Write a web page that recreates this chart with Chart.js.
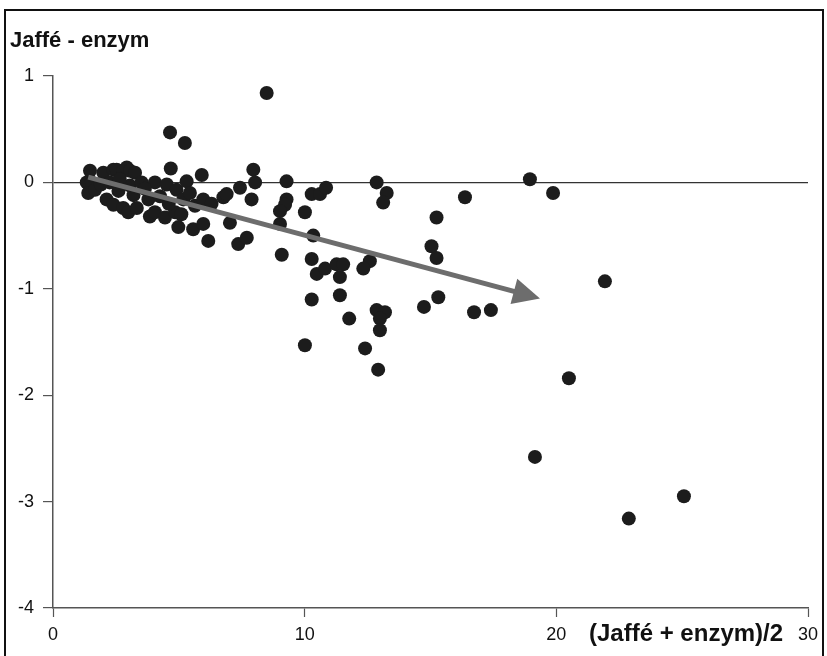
<!DOCTYPE html>
<html>
<head>
<meta charset="utf-8">
<script src="https://cdn.jsdelivr.net/npm/chart.js@4.4.1/dist/chart.umd.min.js"></script>
<style>
  html, body { margin: 0; padding: 0; background: #fff; overflow: hidden; }
  #wrap { position: relative; width: 827px; height: 656px; }
  #frame { position: absolute; left: 4px; top: 9px; width: 816px; height: 660px; border: 2px solid #111; pointer-events: none; }
</style>
</head>
<body>
<div id="wrap">
  <canvas id="c" width="827" height="656"></canvas>
  <div id="frame"></div>
</div>
<script>
// ---- data ----
const yTitle = 'Jaffé - enzym';
const xTitle = '(Jaffé + enzym)/2';
const xTicks = [0, 10, 20, 30];
const yTicks = [1, 0, -1, -2, -3, -4];

const xVals = [
  1.34, 1.47, 1.54, 1.40, 1.67, 2.00, 2.13, 2.40, 2.40, 2.53,
  2.79, 2.93, 3.06, 3.26, 3.06, 2.79, 2.99, 3.33, 3.52, 3.79,
  3.85, 4.05, 4.05, 4.45, 4.52, 4.68, 4.85, 4.91, 4.98, 5.18,
  5.31, 5.44, 5.57, 5.64, 5.91, 5.97, 5.97, 6.17, 6.77, 6.90,
  7.03, 7.36, 7.43, 7.70, 7.96, 8.03, 7.89, 8.49, 4.65, 5.24,
  9.28, 9.28, 9.22, 9.02, 10.01, 10.28, 10.61, 10.85, 9.02, 10.34,
  9.09, 10.28, 10.48, 10.81, 11.27, 11.53, 11.40, 12.59, 12.33, 10.28,
  11.40, 11.77, 12.86, 13.19, 12.99, 12.99, 10.01, 12.40, 12.92, 12.86,
  13.26, 13.12, 15.24, 15.04, 15.24, 15.31, 14.74, 16.37, 16.73, 17.40,
  18.95, 19.87, 21.93, 20.50, 19.15, 25.07, 22.88,
  1.90, 2.25, 2.60, 2.65, 3.20, 3.65, 4.25, 4.60, 5.10, 6.30
];
const yVals = [
  0.00, 0.11, 0.00, -0.10, -0.07, 0.09, -0.16, 0.12, -0.21, 0.12,
  0.11, 0.14, 0.11, 0.09, -0.03, -0.24, -0.28, -0.24, 0.00, -0.16,
  -0.32, -0.28, 0.00, -0.33, -0.02, 0.13, -0.28, -0.07, -0.42, -0.16,
  0.01, -0.10, -0.44, -0.22, 0.07, -0.16, -0.39, -0.55, -0.14, -0.11,
  -0.38, -0.58, -0.05, -0.52, 0.12, 0.00, -0.16, 0.84, 0.47, 0.37,
  0.01, -0.16, -0.21, -0.27, -0.28, -0.11, -0.11, -0.05, -0.39, -0.50,
  -0.68, -0.72, -0.86, -0.81, -0.77, -0.77, -0.89, -0.74, -0.81, -1.10,
  -1.06, -1.28, -1.20, -1.22, -1.28, -1.39, -1.53, -1.56, -1.76, 0.00,
  -0.10, -0.19, -0.33, -0.60, -0.71, -1.08, -1.17, -0.14, -1.22, -1.20,
  0.03, -0.10, -0.93, -1.84, -2.58, -2.95, -3.16,
  -0.02, 0.00, -0.08, 0.03, -0.12, -0.06, -0.13, -0.20, -0.30, -0.20
];
// trend arrow (start, tip) in data units
const arrowX = [1.40, 19.35];
const arrowY = [0.05, -1.09];

const points = xVals.map((x, i) => ({ x: x, y: yVals[i] }));

const textPlugin = {
  id: 'texts',
  afterDatasetsDraw(chart) {
    const ctx = chart.ctx;
    const xs = chart.scales.x, ys = chart.scales.y;
    const x0 = xs.getPixelForValue(arrowX[0]), y0 = ys.getPixelForValue(arrowY[0]);
    const x1 = xs.getPixelForValue(arrowX[1]), y1 = ys.getPixelForValue(arrowY[1]);
    const ang = Math.atan2(y1 - y0, x1 - x0);
    const headL = 27, headW = 13;
    const bx = x1 - headL * Math.cos(ang), by = y1 - headL * Math.sin(ang);
    ctx.save();
    ctx.strokeStyle = '#6d6d6d';
    ctx.fillStyle = '#6d6d6d';
    ctx.lineWidth = 5;
    ctx.lineCap = 'butt';
    ctx.beginPath();
    ctx.moveTo(x0, y0);
    ctx.lineTo(bx + 2 * Math.cos(ang), by + 2 * Math.sin(ang));
    ctx.stroke();
    ctx.beginPath();
    ctx.moveTo(x1, y1);
    ctx.lineTo(bx + headW * Math.sin(ang), by - headW * Math.cos(ang));
    ctx.lineTo(bx - headW * Math.sin(ang), by + headW * Math.cos(ang));
    ctx.closePath();
    ctx.fill();
    ctx.restore();
  },
  afterDraw(chart) {
    const ctx = chart.ctx;
    ctx.save();
    ctx.fillStyle = '#111';
    ctx.textBaseline = 'middle';
    ctx.textAlign = 'left';
    ctx.font = 'bold 22px "Liberation Sans", Arial, sans-serif';
    ctx.fillText(yTitle, 10, 41);
    ctx.font = 'bold 24px "Liberation Sans", Arial, sans-serif';
    ctx.fillText(xTitle, 589, 634);
    ctx.restore();
  }
};

new Chart(document.getElementById('c'), {
  type: 'scatter',
  data: {
    datasets: [{
      data: points,
      backgroundColor: '#1c1c1c',
      borderColor: '#1c1c1c',
      borderWidth: 0,
      pointRadius: 7,
      pointHoverRadius: 7
    }]
  },
  options: {
    responsive: false,
    animation: false,
    events: [],
    layout: { padding: { left: 0, right: 19, top: 76, bottom: 0 } },
    plugins: { legend: { display: false }, tooltip: { enabled: false }, title: { display: false } },
    scales: {
      x: {
        type: 'linear',
        min: 0, max: 30,
        afterFit(s) { s.height = 48; },
        afterBuildTicks(s) { s.ticks = xTicks.map(v => ({ value: v })); },
        border: { display: true, color: '#555', width: 1.5 },
        grid: { drawOnChartArea: false, drawTicks: true, tickLength: 9, tickColor: '#555', tickWidth: 1.2 },
        ticks: { color: '#111', padding: 7, font: { family: '"Liberation Sans", Arial, sans-serif', size: 18 }, maxRotation: 0 }
      },
      y: {
        type: 'linear',
        min: -4, max: 1,
        afterFit(s) { s.width = 53; },
        afterBuildTicks(s) { s.ticks = yTicks.map(v => ({ value: v })); },
        border: { display: true, color: '#555', width: 1.5 },
        grid: {
          drawOnChartArea: true,
          drawTicks: true,
          tickLength: 10,
          tickColor: '#555',
          tickWidth: 1.2,
          lineWidth: 1.2,
          color: c => (c.tick && c.tick.value === 0) ? '#333' : 'rgba(0,0,0,0)'
        },
        ticks: { color: '#111', padding: 9, font: { family: '"Liberation Sans", Arial, sans-serif', size: 18 }, callback: v => String(v) }
      }
    }
  },
  plugins: [textPlugin]
});
</script>
</body>
</html>
